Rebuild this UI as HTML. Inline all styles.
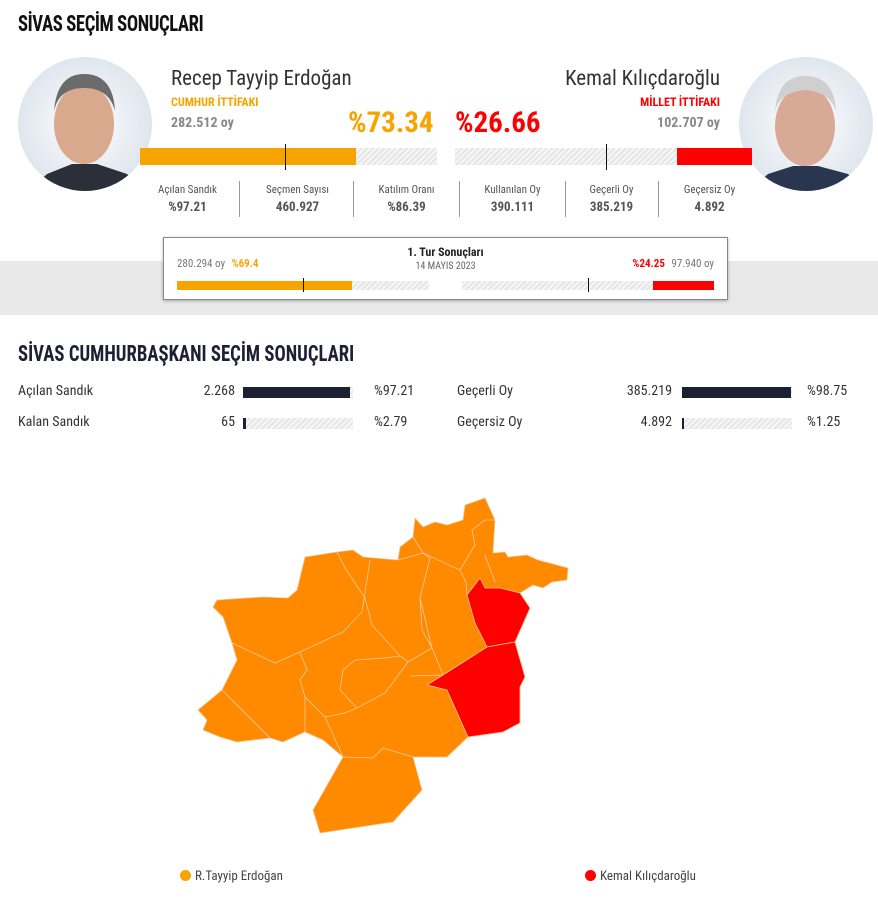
<!DOCTYPE html>
<html><head><meta charset="utf-8">
<style>
*{margin:0;padding:0;box-sizing:border-box}
body{width:878px;height:904px;background:#fff;font-family:"Roboto Condensed","Liberation Sans",sans-serif;position:relative;overflow:hidden;color:#333}
.a{position:absolute}
.hatch{background:repeating-linear-gradient(135deg,#e6e6e6 0 2px,#f6f6f6 2px 4px)}
.t{font-size:11px;color:#555;text-align:center}
.v{font-size:13px;font-weight:bold;color:#555;text-align:center}
.sep{position:absolute;width:1px;background:#999;height:36px;top:181px}
</style></head><body>
<div class="a" style="left:18px;top:12px;font-size:22px;font-weight:bold;color:#111;letter-spacing:-0.5px;transform:scaleX(0.85);transform-origin:left">SİVAS SEÇİM SONUÇLARI</div>

<svg class="a" style="left:17px;top:56px" width="136" height="136">
<defs><radialGradient id="g1"><stop offset="0" stop-color="#fff"/><stop offset="1" stop-color="#dfe6ee"/></radialGradient><clipPath id="c1"><circle cx="68" cy="68" r="67"/></clipPath></defs>
<circle cx="68" cy="68" r="67" fill="url(#g1)"/>
<g clip-path="url(#c1)"><path d="M10 136 L30 118 L55 108 L80 108 L110 118 L130 136Z" fill="#2a2f3a"/><ellipse cx="67" cy="68" rx="30" ry="40" fill="#d9a98e"/><path d="M37 55 Q40 18 67 18 Q96 18 98 55 Q92 32 67 32 Q42 32 37 55Z" fill="#6b6b6b"/></g></svg>
<svg class="a" style="left:738px;top:56px" width="136" height="136">
<defs><clipPath id="c2"><circle cx="68" cy="68" r="67"/></clipPath></defs>
<circle cx="68" cy="68" r="67" fill="url(#g1)"/>
<g clip-path="url(#c2)"><path d="M10 136 L30 118 L55 110 L80 110 L110 118 L130 136Z" fill="#2a3550"/><ellipse cx="67" cy="70" rx="30" ry="40" fill="#d8a995"/><path d="M37 55 Q40 20 67 20 Q96 20 98 55 Q92 36 67 34 Q42 36 37 55Z" fill="#cfcfcf"/></g></svg>

<div class="a" style="left:171px;top:67px;font-size:21px;color:#333">Recep Tayyip Erdoğan</div>
<div class="a" style="left:171px;top:95px;font-size:12px;font-weight:bold;color:#f7a400">CUMHUR İTTİFAKI</div>
<div class="a" style="left:171px;top:115px;font-size:14px;font-weight:bold;color:#888">282.512 oy</div>
<div class="a" style="left:348px;top:106px;font-size:29px;font-weight:bold;color:#f7a400">%73.34</div>
<div class="a" style="left:455px;top:106px;font-size:29px;font-weight:bold;color:#f00">%26.66</div>
<div class="a" style="right:158px;top:67px;font-size:21px;color:#333">Kemal Kılıçdaroğlu</div>
<div class="a" style="right:158px;top:95px;font-size:12px;font-weight:bold;color:#f00">MİLLET İTTİFAKI</div>
<div class="a" style="right:158px;top:115px;font-size:14px;font-weight:bold;color:#888">102.707 oy</div>

<div class="a hatch" style="left:140px;top:148px;width:297px;height:17px"></div>
<div class="a" style="left:140px;top:148px;width:216px;height:17px;background:#f7a400"></div>
<div class="a" style="left:285px;top:144px;width:1px;height:26px;background:#111"></div>
<div class="a hatch" style="left:455px;top:148px;width:297px;height:17px"></div>
<div class="a" style="left:677px;top:148px;width:75px;height:17px;background:#f00"></div>
<div class="a" style="left:606px;top:144px;width:1px;height:26px;background:#111"></div>

<div class="a t" style="left:140px;top:183px;width:95px">Açılan Sandık</div>
<div class="a v" style="left:140px;top:200px;width:95px">%97.21</div>
<div class="sep" style="left:239px"></div>
<div class="a t" style="left:245px;top:183px;width:105px">Seçmen Sayısı</div>
<div class="a v" style="left:245px;top:200px;width:105px">460.927</div>
<div class="sep" style="left:353px"></div>
<div class="a t" style="left:355px;top:183px;width:103px">Katılım Oranı</div>
<div class="a v" style="left:355px;top:200px;width:103px">%86.39</div>
<div class="sep" style="left:459px"></div>
<div class="a t" style="left:460px;top:183px;width:105px">Kullanılan Oy</div>
<div class="a v" style="left:460px;top:200px;width:105px">390.111</div>
<div class="sep" style="left:565px"></div>
<div class="a t" style="left:565px;top:183px;width:93px">Geçerli Oy</div>
<div class="a v" style="left:565px;top:200px;width:93px">385.219</div>
<div class="sep" style="left:658px"></div>
<div class="a t" style="left:658px;top:183px;width:103px">Geçersiz Oy</div>
<div class="a v" style="left:658px;top:200px;width:103px">4.892</div>

<div class="a" style="left:0;top:261px;width:878px;height:54px;background:#e9e9e9"></div>
<div class="a" style="left:163px;top:237px;width:565px;height:63px;background:#fff;border:1px solid #888;box-shadow:0 1px 3px rgba(0,0,0,.3)"></div>
<div class="a" style="left:163px;top:245px;width:565px;text-align:center;font-size:12px;font-weight:bold;color:#222">1. Tur Sonuçları</div>
<div class="a" style="left:163px;top:261px;width:565px;text-align:center;font-size:10px;color:#666">14 MAYIS 2023</div>
<div class="a" style="left:177px;top:257px;font-size:11px;color:#777">280.294 oy <b style="color:#f7a400;margin-left:4px">%69.4</b></div>
<div class="a" style="right:164px;top:257px;font-size:11px;color:#777"><b style="color:#f00;margin-right:4px">%24.25</b> 97.940 oy</div>
<div class="a hatch" style="left:177px;top:281px;width:252px;height:9px"></div>
<div class="a" style="left:177px;top:281px;width:175px;height:9px;background:#f7a400"></div>
<div class="a" style="left:303px;top:278px;width:1px;height:14px;background:#111"></div>
<div class="a hatch" style="left:462px;top:281px;width:252px;height:9px"></div>
<div class="a" style="left:653px;top:281px;width:61px;height:9px;background:#f00"></div>
<div class="a" style="left:588px;top:278px;width:1px;height:14px;background:#111"></div>

<div class="a" style="left:18px;top:342px;font-size:22px;font-weight:bold;color:#1c2033;transform:scaleX(0.85);transform-origin:left">SİVAS CUMHURBAŞKANI SEÇİM SONUÇLARI</div>

<div id="rows"></div>

<svg class="a" id="map" style="left:0;top:480px" width="878" height="370" viewBox="0 480 878 370"></svg>

<div class="a" style="left:180px;top:869px;font-size:13px;color:#444"><span style="display:inline-block;width:11px;height:11px;border-radius:50%;background:#f7a400;vertical-align:-1px;margin-right:4px"></span>R.Tayyip Erdoğan</div>
<div class="a" style="left:585px;top:869px;font-size:13px;color:#444"><span style="display:inline-block;width:11px;height:11px;border-radius:50%;background:#f00;vertical-align:-1px;margin-right:4px"></span>Kemal Kılıçdaroğlu</div>

<script>
const rowLabels=["Açılan Sandık","Kalan Sandık","Geçerli Oy","Geçersiz Oy"];
const rowCounts=["2.268","65","385.219","4.892"];
const rowPercents=[97.21,2.79,98.75,1.25];
const rowPctText=["%97.21","%2.79","%98.75","%1.25"];
const rowsEl=document.getElementById('rows');
rowLabels.forEach((lab,i)=>{
  const col=i<2?0:1, r=i%2;
  const x0=col?457:18, y=383+r*31;
  const d=document.createElement('div');
  
  
  d.className='a';d.style.cssText=`left:${x0}px;top:${y}px;width:420px;height:20px;font-size:14px;color:#333`;
  const bx=225, bw=110;
  d.innerHTML=`<span class="a" style="left:0;top:0">${lab}</span><span class="a" style="right:${420-(col?215:217)}px;top:0">${rowCounts[i]}</span><div class="a hatch" style="left:${bx}px;top:4px;width:${bw}px;height:11px"></div><div class="a" style="left:${bx}px;top:4px;width:${Math.max(2,bw*rowPercents[i]/100)}px;height:11px;background:#1c2033"></div><span class="a" style="left:${col?350:356}px;top:0">${rowPctText[i]}</span>`;
  rowsEl.appendChild(d);
});
const outer=[[213,607],[217,600],[263,597],[288,598],[297,590],[305,557],[337,552],[353,550],[363,557],[398,560],[400,547],[413,537],[415,518],[423,527],[435,522],[447,525],[463,520],[465,505],[485,498],[495,520],[493,553],[505,552],[508,557],[527,555],[538,560],[568,568],[567,580],[552,582],[543,588],[533,585],[520,593],[530,608],[515,642],[525,677],[520,687],[520,723],[510,725],[503,732],[468,737],[447,757],[413,757],[422,790],[393,822],[320,833],[313,810],[343,757],[323,740],[305,732],[283,742],[270,738],[237,742],[220,737],[203,730],[207,720],[198,710],[222,690],[237,660],[232,643],[223,617]];
const red1=[[467,595],[480,578],[485,588],[500,588],[520,593],[530,608],[515,642],[487,647],[475,623]];
const red2=[[487,647],[515,642],[525,677],[520,687],[520,723],[503,732],[468,737],[447,690],[427,685],[443,675]];
const lines=[[[232,643],[275,663],[300,652],[343,632],[362,612],[370,560]],[[337,552],[345,568],[365,598],[372,625],[400,656],[408,662],[432,648],[422,630],[420,598],[430,558],[423,553]],[[300,652],[307,670],[300,680],[305,697],[325,717],[345,713],[357,708],[385,693],[408,662]],[[357,708],[340,690],[343,670],[355,660],[385,658],[400,656]],[[305,697],[305,732]],[[325,717],[343,757]],[[222,690],[270,738]],[[398,560],[423,553],[460,570],[466,582],[467,595]],[[413,537],[423,553]],[[460,570],[475,545],[472,530],[485,520],[495,520]],[[485,555],[495,582]],[[343,757],[373,758],[383,748],[413,757]],[[420,598],[432,648],[443,675],[410,676]]];
const svg=document.getElementById('map');
const ns='http://www.w3.org/2000/svg';
function poly(pts,fill,name){const p=document.createElementNS(ns,'polygon');p.setAttribute('points',pts.map(q=>q.join(',')).join(' '));p.setAttribute('fill',fill);p.setAttribute('stroke','#f2c79a');p.setAttribute('stroke-width','0.8');


svg.appendChild(p);}
poly(outer,'#ff8a00','map-erdogan-districts');
lines.forEach(l=>{const p=document.createElementNS(ns,'polyline');p.setAttribute('points',l.map(q=>q.join(',')).join(' '));p.setAttribute('fill','none');p.setAttribute('stroke','#f5c9a0');p.setAttribute('stroke-width','0.8');


svg.appendChild(p);});
poly(red1,'#ff0000','map-kilicdaroglu-district');
poly(red2,'#ff0000','map-kilicdaroglu-district');
</script>
</body></html>
